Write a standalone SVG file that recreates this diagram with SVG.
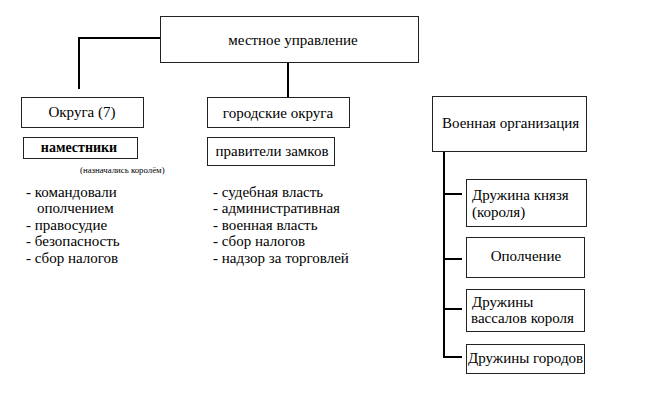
<svg xmlns="http://www.w3.org/2000/svg" width="661" height="414" viewBox="0 0 661 414" font-family="Liberation Serif, serif">
<style>
.box{fill:#fff;stroke:#222;stroke-width:1}
.t{font-family:'Liberation Serif',serif;font-size:15px;fill:#000}
.c{text-anchor:middle}
.b{font-weight:bold;font-size:14px}
.s{font-size:8.8px}
.con{fill:none;stroke:#000;stroke-width:2}
</style>
<rect width="661" height="414" fill="#fff"/>
<g id="connectors">
<polyline class="con" points="160,38 79,38 79,89"/>
<line class="con" x1="288" y1="63" x2="288" y2="97"/>
<polyline class="con" points="444,152 444,357 462,357"/>
<line class="con" x1="444" y1="194" x2="462" y2="194"/>
<line class="con" x1="444" y1="259" x2="462" y2="259"/>
<line class="con" x1="444" y1="309" x2="462" y2="309"/>
</g>
<g id="n-mestnoe">
<rect class="box" x="160.5" y="16.5" width="258" height="46"/>
<text class="t c" x="293" y="45">местное управление</text>
</g>
<g id="n-okruga">
<rect class="box" x="21.5" y="97.5" width="122" height="30"/>
<text class="t c" x="82" y="117">Округа (7)</text>
</g>
<g id="n-namestniki">
<rect class="box" x="23.5" y="137.5" width="114" height="21"/>
<text class="t c b" x="79" y="152">наместники</text>
<text class="t s" x="80" y="173">(назначались королём)</text>
</g>
<g id="list-left">
<text class="t" x="26" y="197">- командовали</text>
<text class="t" x="37" y="213">ополчением</text>
<text class="t" x="26" y="230">- правосудие</text>
<text class="t" x="26" y="246">- безопасность</text>
<text class="t" x="26" y="263">- сбор налогов</text>
</g>
<g id="n-gorodskie">
<rect class="box" x="207.5" y="97.5" width="142" height="30"/>
<text class="t c" x="278" y="118">городские округа</text>
</g>
<g id="n-praviteli">
<rect class="box" x="207.5" y="137.5" width="127" height="28"/>
<text class="t c" x="272" y="156">правители замков</text>
</g>
<g id="list-right">
<text class="t" x="213" y="197">- судебная власть</text>
<text class="t" x="213" y="213">- административная</text>
<text class="t" x="213" y="230">- военная власть</text>
<text class="t" x="213" y="246">- сбор налогов</text>
<text class="t" x="213" y="263">- надзор за торговлей</text>
</g>
<g id="n-voennaya">
<rect class="box" x="432.5" y="96.5" width="154" height="55"/>
<text class="t" x="442" y="128">Военная организация</text>
</g>
<g id="n-druzhina-knyazya">
<rect class="box" x="466.5" y="179.5" width="120" height="47"/>
<text class="t" x="472" y="200">Дружина князя</text>
<text class="t" x="472" y="217">(короля)</text>
</g>
<g id="n-opolchenie">
<rect class="box" x="466.5" y="237.5" width="118" height="40"/>
<text class="t c" x="526" y="261">Ополчение</text>
</g>
<g id="n-vassaly">
<rect class="box" x="466.5" y="289.5" width="118" height="42"/>
<text class="t" x="472" y="307">Дружины</text>
<text class="t" x="471" y="323">вассалов короля</text>
</g>
<g id="n-goroda">
<rect class="box" x="466.5" y="344.5" width="118" height="29"/>
<text class="t" x="468" y="363">Дружины городов</text>
</g>
</svg>
